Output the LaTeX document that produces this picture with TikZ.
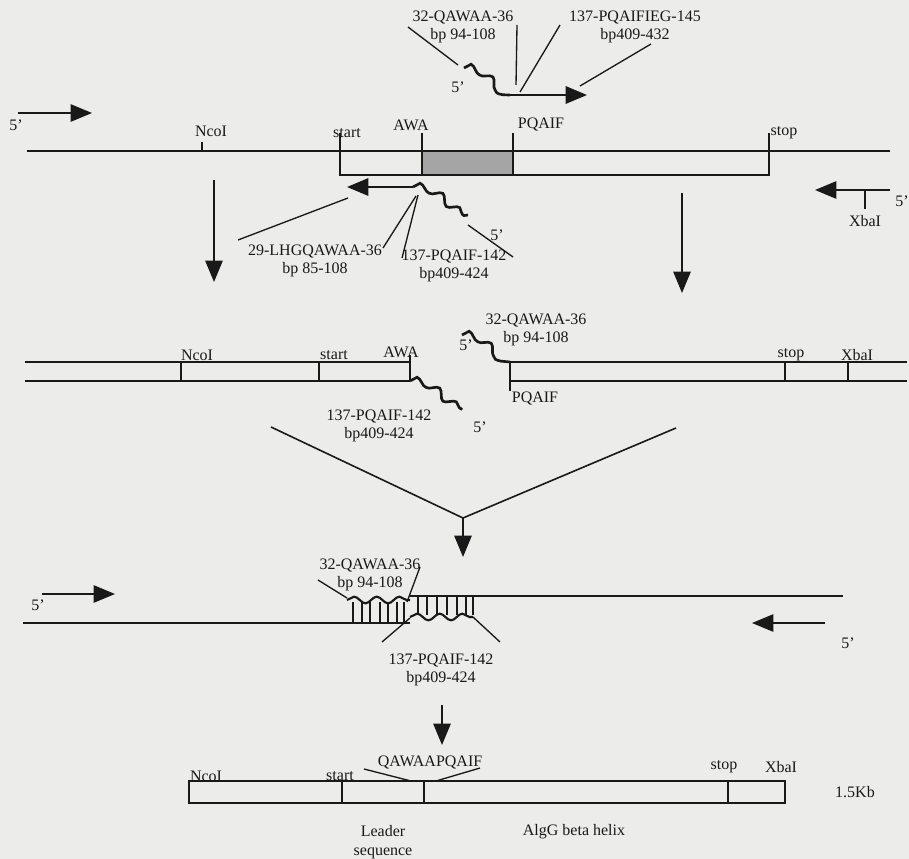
\documentclass[tikz,border=0pt]{standalone}
\usepackage{fontspec}
\setmainfont{Liberation Serif}
\usepackage{tikz}
\usetikzlibrary{arrows.meta}
\usetikzlibrary{decorations.pathmorphing}
\tikzset{
every picture/.style={
line width=1.2pt
}}
\definecolor{paper}{RGB}{236,236,234}
\definecolor{ink}{RGB}{25,25,25}
\definecolor{insert}{RGB}{165,165,165}
\tikzset{
lbl/.style={inner sep=0pt, align=center, font=\fontsize{12}{14}\selectfont},
fwd/.style={-{Triangle[length=16pt,width=13pt]}},
wiggle/.style={decorate, decoration={snake, amplitude=2.8pt, segment length=17pt}, line width=2pt},
lead/.style={line width=1pt}
}

\begin{document}
\begin{tikzpicture}[x=0.75pt,y=-0.75pt,color=ink]
  \fill[paper] (0,0) rectangle (909,859);
  \useasboundingbox (0,0) rectangle (909,859);

  % PCR on the template, two mutagenic primers
  \node[lbl] at (16,125) (fiveA) {5'};
  \draw[fwd] (18,113) -- (92,113);
  \draw (27,151) -- (890,151);
  \fill[insert] (422,151) rectangle (513,175);
  \draw (340,133) -- (340,175) -- (769,175) -- (769,133);
  \draw (422,133) -- (422,175);
  \draw (513,133) -- (513,175);
  \draw[line width=2pt] (422,151) -- (513,151);
  \draw (202,142) -- (202,151);
  \node[lbl] at (211,131) (ncoA) {NcoI};
  \node[lbl] at (347,133) (startA) {start};
  \node[lbl] at (411,125) (awaA) {AWA};
  \node[lbl] at (541,125) (pqaifA) {PQAIF};
  \node[lbl] at (784,133) (stopA) {stop};

  % upper mutagenic primer
  \node[lbl] at (463,27) (qawaaA) {32-QAWAA-36\\bp 94-108};
  \node[lbl] at (635,27) (pqaifiegA) {137-PQAIFIEG-145\\bp409-432};
  \draw[wiggle] (464,68) to[out=0,in=180] (510,95);
  \draw[fwd,line width=1.6pt] (510,95) -- (587,95);
  \node[lbl] at (458,87) (fiveB) {5'};
  \draw[lead] (408,27) -- (458,65);
  \draw[lead] (517,25) -- (516,85);
  \draw[lead] (560,25) -- (520,92);
  \draw[lead] (651,44) -- (580,86);

  % lower mutagenic primer
  \draw[fwd,line width=1.6pt] (413,187) -- (347,187);
  \draw[wiggle] (413,187) to[out=0,in=180] (468,215);
  \node[lbl] at (497,235) (fiveC) {5'};
  \node[lbl] at (315,261) (lhgA) {29-LHGQAWAA-36\\bp 85-108};
  \node[lbl] at (454,266) (pqaifB) {137-PQAIF-142\\bp409-424};
  \draw[lead] (238,240) -- (348,198);
  \draw[lead] (383,248) -- (416,196);
  \draw[lead] (402,258) -- (418,195);
  \draw[lead] (468,225) -- (513,257);

  % reverse primer at XbaI
  \draw[fwd] (890,190) -- (815,190);
  \draw (865,190) -- (865,209);
  \node[lbl] at (865,221) (xbaA) {XbaI};
  \node[lbl] at (902,201) (fiveD) {5'};

  \draw[fwd] (214,180) -- (214,282);
  \draw[fwd] (682,193) -- (682,293);

  % two PCR products
  \draw (25,362) -- (410,362);
  \draw (25,381) -- (410,381);
  \draw (181,362) -- (181,381);
  \draw (319,362) -- (319,381);
  \draw (410,355) -- (410,381);
  \draw[wiggle] (410,381) to[out=0,in=180] (462,408);
  \node[lbl] at (197,355) (ncoB) {NcoI};
  \node[lbl] at (334,355) (startB) {start};
  \node[lbl] at (401,352) (awaB) {AWA};
  \node[lbl] at (379,426) (pqaifC) {137-PQAIF-142\\bp409-424};
  \node[lbl] at (480,427) (fiveE) {5'};

  \draw (510,362) -- (907,362);
  \draw (510,381) -- (907,381);
  \draw (510,362) -- (510,391);
  \draw (785,362) -- (785,381);
  \draw (848,362) -- (848,381);
  \draw[wiggle] (462,335) to[out=0,in=180] (510,362);
  \node[lbl] at (466,345) (fiveF) {5'};
  \node[lbl] at (536,330) (qawaaB) {32-QAWAA-36\\bp 94-108};
  \node[lbl] at (535,398) (pqaifD) {PQAIF};
  \node[lbl] at (791,355) (stopB) {stop};
  \node[lbl] at (857,355) (xbaB) {XbaI};

  \draw (271,427) -- (463,518) -- (676,428);
  \draw[fwd] (463,518) -- (463,557);

  % annealed overlap, fusion PCR
  \node[lbl] at (38,605) (fiveG) {5'};
  \draw[fwd] (42,594) -- (115,594);
  \draw (23,623) -- (410,623);
  \draw (410,596) -- (843,596);
  \draw[wiggle,line width=1.6pt,decoration={snake,amplitude=2.5pt,segment length=17pt}] (347,600) -- (410,600);
  \foreach \hx in {353,362,370,380,388,397,404}
    \draw[line width=1pt] (\hx,602) -- (\hx,623);
  \draw[wiggle,line width=1.6pt,decoration={snake,amplitude=2.5pt,segment length=17pt}] (410,617) -- (473,617);
  \foreach \hx in {418,427,437,447,457,466,473}
    \draw[line width=1pt] (\hx,596) -- (\hx,615);
  \node[lbl] at (370,575) (qawaaC) {32-QAWAA-36\\bp 94-108};
  \node[lbl] at (441,670) (pqaifE) {137-PQAIF-142\\bp409-424};
  \draw[lead] (318,580) -- (347,598);
  \draw[lead] (420,567) -- (407,602);
  \draw[lead] (382,642) -- (410,618);
  \draw[lead] (500,642) -- (473,617);
  \draw[fwd] (825,623) -- (752,623);
  \node[lbl] at (848,643) (fiveH) {5'};

  \draw[fwd] (442,705) -- (442,745);

  % final construct
  \draw (189,781) rectangle (785,803);
  \draw (342,781) -- (342,803);
  \draw (424,781) -- (424,803);
  \draw (728,781) -- (728,803);
  \node[lbl] at (206,776) (ncoC) {NcoI};
  \node[lbl] at (340,776) (startC) {start};
  \node[lbl] at (430,762) (fusion) {QAWAAPQAIF};
  \draw[lead] (364,769) -- (411,781);
  \draw[lead] (480,768) -- (436,781);
  \node[lbl] at (724,767) (stopC) {stop};
  \node[lbl] at (781,767) (xbaC) {XbaI};
  \node[lbl] at (855,792) (size) {1.5Kb};
  \node[lbl] at (383,842) (leader) {Leader\\sequence};
  \node[lbl] at (574,832) (helix) {AlgG beta helix};
\end{tikzpicture}
\end{document}
